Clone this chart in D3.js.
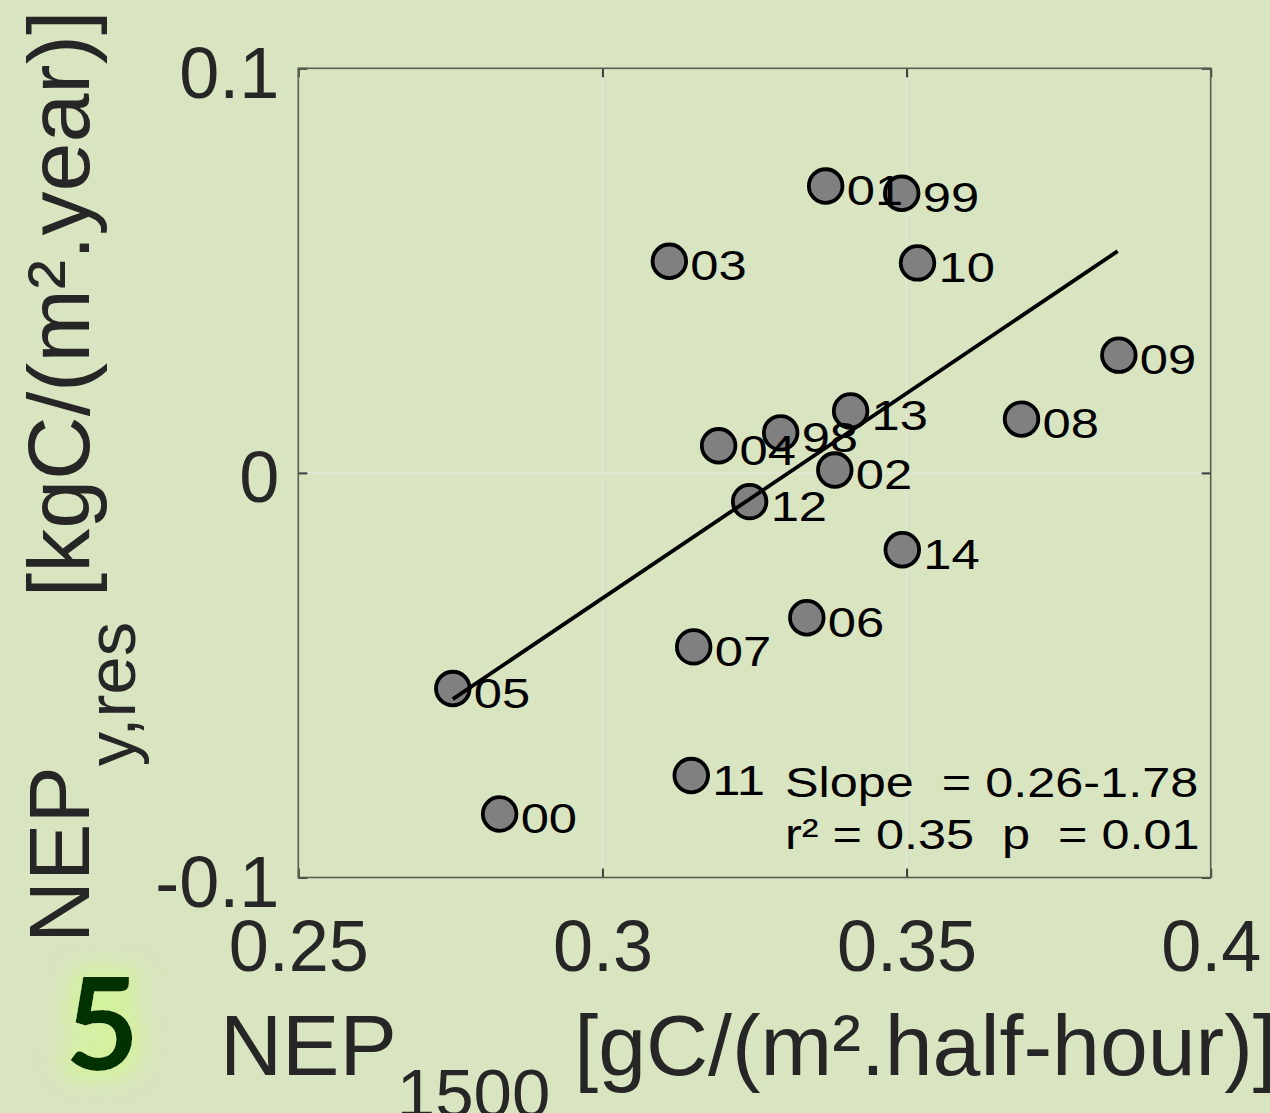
<!DOCTYPE html>
<html>
<head>
<meta charset="utf-8">
<script src="https://cdn.jsdelivr.net/npm/d3@7"></script>
<style>
html,body{margin:0;padding:0;background:#d9e4c0;}
svg{display:block;}
</style>
</head>
<body>
<svg id="chart" width="1270" height="1113"></svg>
<script>
// ---- data ----
const years = ["01","99","03","10","09","13","08","98","04","02","12","14","06","07","05","11","00"];
const nep1500 = [0.3367,0.3492,0.3110,0.3518,0.3849,0.3408,0.3689,0.3293,0.3191,0.3382,0.3242,0.3493,0.3336,0.3150,0.2754,0.3146,0.2831];
const nepRes = [0.0709,0.0691,0.0523,0.0519,0.0291,0.0153,0.0133,0.0099,0.0067,0.0007,-0.0071,-0.0190,-0.0358,-0.0430,-0.0533,-0.0748,-0.0843];
const fitX = [0.2754, 0.3847];
const fitY = [-0.0559, 0.0548];
const xTicks = [0.25, 0.3, 0.35, 0.4];
const yTicks = [-0.1, 0, 0.1];
const statsLines = ["Slope  = 0.26-1.78", "r\u00B2 = 0.35  p  = 0.01"];

// ---- layout ----
const svg = d3.select("#chart");
const L = 298.3, R = 1210.7, T = 68.3, B = 877.5;
const x = d3.scaleLinear().domain([0.25, 0.4]).range([L, R]);
const y = d3.scaleLinear().domain([-0.1, 0.1]).range([B, T]);
const font = "'Liberation Sans', Arial, sans-serif";
const txt = "#262626";

svg.append("rect").attr("width",1270).attr("height",1113).attr("fill","#d9e4c0");

// gridlines
const grid = svg.append("g").attr("stroke","#e3e7d8").attr("stroke-width",1.5);
grid.selectAll("line.gx").data(xTicks.slice(1,-1)).enter().append("line")
  .attr("x1",d=>x(d)).attr("x2",d=>x(d)).attr("y1",T).attr("y2",B);
grid.selectAll("line.gy").data(yTicks.slice(1,-1)).enter().append("line")
  .attr("y1",d=>y(d)).attr("y2",d=>y(d)).attr("x1",L).attr("x2",R);

// axes (ticks inside)
const tickLen = 9;
const axB = svg.append("g").attr("transform",`translate(0,${B})`)
  .call(d3.axisBottom(x).tickValues(xTicks).tickSizeInner(-tickLen).tickSizeOuter(0));
const axT = svg.append("g").attr("transform",`translate(0,${T})`)
  .call(d3.axisTop(x).tickValues(xTicks).tickSizeInner(-tickLen).tickSizeOuter(0).tickFormat(""));
const axL = svg.append("g").attr("transform",`translate(${L},0)`)
  .call(d3.axisLeft(y).tickValues(yTicks).tickSizeInner(-tickLen).tickSizeOuter(0));
const axR = svg.append("g").attr("transform",`translate(${R},0)`)
  .call(d3.axisRight(y).tickValues(yTicks).tickSizeInner(-tickLen).tickSizeOuter(0).tickFormat(""));
[axB,axT,axL,axR].forEach(a=>{
  a.select(".domain").remove();
  a.selectAll(".tick line").attr("stroke","#3a3a3a").attr("stroke-width",2);
});
axB.selectAll(".tick text").attr("font-family",font).attr("font-size",72).attr("fill",txt)
  .attr("dy",null).attr("y",93).attr("text-anchor","middle").text(d=>String(d));
axL.selectAll(".tick text").attr("font-family",font).attr("font-size",72).attr("fill",txt)
  .attr("dy",null).attr("x",-19).attr("y",29).attr("text-anchor","end").text(d=>String(d));

// box
svg.append("rect").attr("x",L).attr("y",T).attr("width",R-L).attr("height",B-T)
  .attr("fill","none").attr("stroke","#5a5f52").attr("stroke-width",1.6);

// points
svg.append("g").selectAll("circle").data(years).enter().append("circle")
  .attr("cx",(d,i)=>x(nep1500[i])).attr("cy",(d,i)=>y(nepRes[i]))
  .attr("r",16.8).attr("fill","#808080").attr("stroke","#000").attr("stroke-width",3.8);

// labels (horizontally widened glyphs as in the reference)
svg.append("g").selectAll("text").data(years).enter().append("text")
  .attr("transform",(d,i)=>`translate(${x(nep1500[i])+21},${y(nepRes[i])+19}) scale(1.18,1)`)
  .attr("font-family",font).attr("font-size",43).attr("fill","#000").text(d=>d);

// regression line
svg.append("line")
  .attr("x1",x(fitX[0])).attr("y1",y(fitY[0])).attr("x2",x(fitX[1])).attr("y2",y(fitY[1]))
  .attr("stroke","#000").attr("stroke-width",3.8);

// stats text
svg.append("g").selectAll("text").data(statsLines).enter().append("text")
  .attr("transform",(d,i)=>`translate(785,${797+i*52}) scale(1.2,1)`)
  .attr("font-family",font).attr("font-size",42).attr("fill","#000")
  .style("white-space","pre").attr("xml:space","preserve").text(d=>d);

// y axis title
const yt = svg.append("text").attr("transform","translate(89,943) rotate(-90)")
  .attr("font-family",font).attr("font-size",86).attr("fill",txt).style("white-space","pre");
yt.append("tspan").text("NEP");
yt.append("tspan").attr("font-size",69).attr("dy",46).text("y,res");
yt.append("tspan").attr("dy",-46).attr("font-size",88).text(" [kgC/(m\u00B2.year)]");

// x axis title
const xt = svg.append("text").attr("x",220).attr("y",1075)
  .attr("font-family",font).attr("font-size",86).attr("fill",txt).style("white-space","pre");
xt.append("tspan").text("NEP");
xt.append("tspan").attr("font-size",69).attr("dy",42).text("1500");
xt.append("tspan").attr("dy",-42).text(" [gC/(m\u00B2.half-hour)]");

// panel number with glow
const defs = svg.append("defs");
const f = defs.append("filter").attr("id","glow").attr("x","-80%").attr("y","-60%").attr("width","260%").attr("height","220%");
f.append("feMorphology").attr("in","SourceAlpha").attr("operator","dilate").attr("radius",9).attr("result","d");
f.append("feGaussianBlur").attr("in","d").attr("stdDeviation",11).attr("result","b");
f.append("feFlood").attr("flood-color","#d4f29c").attr("flood-opacity",1).attr("result","c");
f.append("feComposite").attr("in","c").attr("in2","b").attr("operator","in").attr("result","g");
const m = f.append("feMerge");
m.append("feMergeNode").attr("in","g");
m.append("feMergeNode").attr("in","SourceGraphic");
svg.append("text").attr("x",102).attr("y",1070).attr("text-anchor","middle")
  .attr("font-family","Lato, 'Open Sans', sans-serif").attr("font-weight","bold").attr("font-size",128)
  .attr("fill","#003300").attr("filter","url(#glow)").text("5");
</script>
</body>
</html>
